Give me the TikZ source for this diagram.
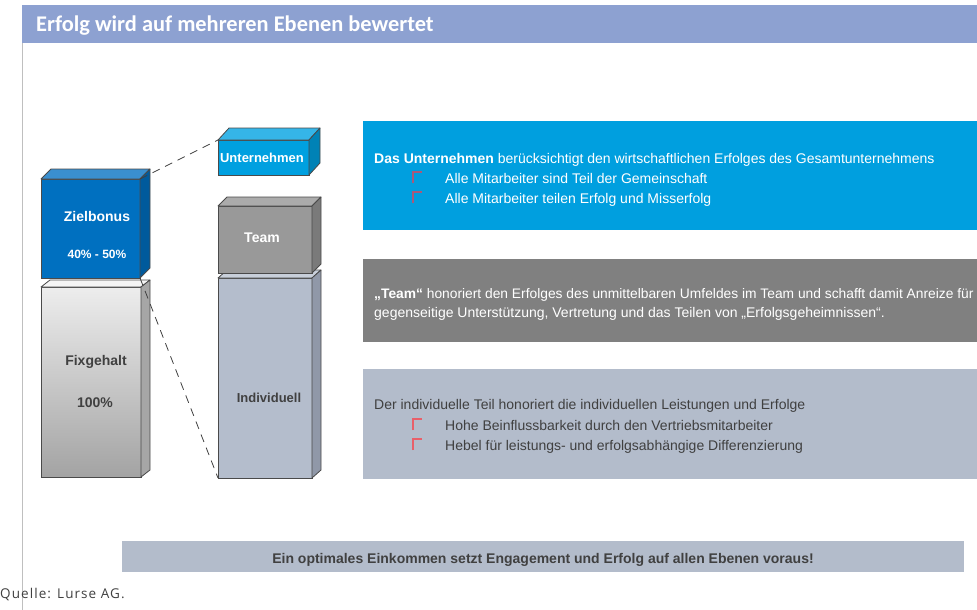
\documentclass[tikz,border=0pt]{standalone}
\usepackage{fontspec}
\setmainfont{Liberation Sans}
\newfontfamily\bodyfont{Liberation Sans}
\newfontfamily\headfont{Carlito}
\newfontfamily\srcfont[LetterSpace=8]{Open Sans}
\usetikzlibrary{calc}
\definecolor{headblue}{HTML}{8DA1D1}
\definecolor{cyanbox}{HTML}{009FDF}
\definecolor{greybox}{HTML}{808080}
\definecolor{paleblue}{HTML}{B3BCCB}
\definecolor{darktext}{HTML}{404040}
\definecolor{edgegrey}{HTML}{4A4A4A}
\definecolor{zfront}{HTML}{0070C0}
\definecolor{ztop}{HTML}{3A8FCF}
\definecolor{zside}{HTML}{005A9C}
\definecolor{ufront}{HTML}{00A0E0}
\definecolor{utop}{HTML}{35B5E8}
\definecolor{uside}{HTML}{0082B6}
\definecolor{tfront}{HTML}{999999}
\definecolor{ttop}{HTML}{ABABAB}
\definecolor{tside}{HTML}{7A7A7A}
\definecolor{ifront}{HTML}{B4BDCC}
\definecolor{itop}{HTML}{C8CFDA}
\definecolor{iside}{HTML}{9098A8}
\definecolor{bulletA}{HTML}{A85A7C}
\definecolor{bulletB}{HTML}{E8606A}
\newcommand\cubefaces[5]{%
  \filldraw[fill=#2,draw=edgegrey,line width=0.8pt,line join=round]
    (#1.north west) -- ++(#4,#5) -- ($(#1.north east)+(#4,#5)$) -- (#1.north east) -- cycle;
  \filldraw[fill=#3,draw=edgegrey,line width=0.8pt,line join=round]
    (#1.north east) -- ++(#4,#5) -- ($(#1.south east)+(#4,#5)$) -- (#1.south east) -- cycle;
}
\newcommand\bulletmark[3]{%
  \draw[#3,line width=1.3pt] (#1,#2) -- (#1,#2-11) -- (#1+9,#2-11);
}
\begin{document}
\begin{tikzpicture}[x=1pt,y=-1pt,
  front/.style={draw=edgegrey,line width=0.8pt,inner sep=0pt,outer sep=0pt},
  boxlabel/.style={font=\fontsize{14}{16}\selectfont\bfseries},
  bodytext/.style={anchor=base west,inner sep=0pt,font=\bodyfont\fontsize{14}{16}\selectfont},
  link/.style={draw=darktext,line width=0.8pt,dash pattern=on 8pt off 6pt}
]
\useasboundingbox (0,0) rectangle (977,610);
% header
\fill[headblue] (22,5) rectangle (977,43);
\node[anchor=base west,inner sep=0pt,text=white,font=\headfont\bfseries\fontsize{22.4}{26}\selectfont] (title) at (36,32) {Erfolg wird auf mehreren Ebenen bewertet};
\draw[gray!50,line width=0.8pt] (22,43) -- (22,610);

% Fixgehalt
\node[front,minimum width=100pt,minimum height=190pt,top color=black!7,bottom color=black!36] (fix) at (91,382) {};
\cubefaces{fix}{black!4}{black!35}{9}{-7}
\node[boxlabel,text=darktext] (fixlbl) at (96,362) {Fixgehalt};
\node[boxlabel,text=darktext] (fixpct) at (95,403) {100\%};

% Zielbonus
\node[front,minimum width=99pt,minimum height=99pt,fill=zfront] (ziel) at (90.5,228.5) {};
\cubefaces{ziel}{ztop}{zside}{10}{-10}
\node[boxlabel,text=white] (ziellbl) at (97,216) {Zielbonus};
\node[boxlabel,text=white,font=\fontsize{12}{14}\selectfont\bfseries] (zielpct) at (97,254) {40\% - 50\%};

% Individuell
\node[front,minimum width=94pt,minimum height=200pt,fill=ifront] (indiv) at (265,378) {};
\cubefaces{indiv}{itop}{iside}{9}{-8}
\node[boxlabel,text=darktext,font=\fontsize{13}{15}\selectfont\bfseries] (indivlbl) at (269,398) {Individuell};

% Team
\node[front,minimum width=94pt,minimum height=67pt,fill=tfront] (team) at (265,239.5) {};
\cubefaces{team}{ttop}{tside}{9}{-9}
\node[boxlabel,text=white] (teamlbl) at (262,238) {Team};

% Unternehmen
\node[front,minimum width=91pt,minimum height=35pt,fill=ufront] (unt) at (263.5,157.5) {};
\cubefaces{unt}{utop}{uside}{11}{-12}
\node[boxlabel,text=white,font=\fontsize{13}{15}\selectfont\bfseries] (untlbl) at (262,158) {Unternehmen};

% dashed connectors
\draw[link] (ziel.north east) -- (unt.north west);
\draw[link] (ziel.south east) -- (indiv.south west);

% info boxes
\fill[cyanbox] (363,121) rectangle (977,230);
\node[bodytext,text=white] (u1) at (374,163) {\textbf{Das Unternehmen} berücksichtigt den wirtschaftlichen Erfolges des Gesamtunternehmens};
\bulletmark{413}{183}{bulletA}
\node[bodytext,text=white] (u2) at (445,183) {Alle Mitarbeiter sind Teil der Gemeinschaft};
\bulletmark{413}{203}{bulletA}
\node[bodytext,text=white] (u3) at (445,203) {Alle Mitarbeiter teilen Erfolg und Misserfolg};

\fill[greybox] (363,259) rectangle (977,342);
\node[bodytext,text=white,font=\bodyfont\fontsize{13.8}{16}\selectfont] (t1) at (374,298) {\textbf{„Team“} honoriert den Erfolges des unmittelbaren Umfeldes im Team und schafft damit Anreize für};
\node[bodytext,text=white] (t2) at (374,317) {gegenseitige Unterstützung, Vertretung und das Teilen von „Erfolgsgeheimnissen“.};

\fill[paleblue] (363,369) rectangle (977,479);
\node[bodytext,text=darktext] (i1) at (374,409) {Der individuelle Teil honoriert die individuellen Leistungen und Erfolge};
\bulletmark{413}{430}{bulletB}
\node[bodytext,text=darktext] (i2) at (445,430) {Hohe Beinflussbarkeit durch den Vertriebsmitarbeiter};
\bulletmark{413}{450}{bulletB}
\node[bodytext,text=darktext] (i3) at (445,450) {Hebel für leistungs- und erfolgsabhängige Differenzierung};

% bottom banner
\fill[paleblue] (122,541) rectangle (964,572);
\node[anchor=base,inner sep=0pt,text=darktext,font=\bodyfont\bfseries\fontsize{14}{16}\selectfont] (banner) at (543,563) {Ein optimales Einkommen setzt Engagement und Erfolg auf allen Ebenen voraus!};

% source
\node[anchor=base west,inner sep=0pt,text=darktext,font=\srcfont\fontsize{13.5}{16}\selectfont] (src) at (0,598) {Quelle: Lurse AG.};
\end{tikzpicture}
\end{document}
